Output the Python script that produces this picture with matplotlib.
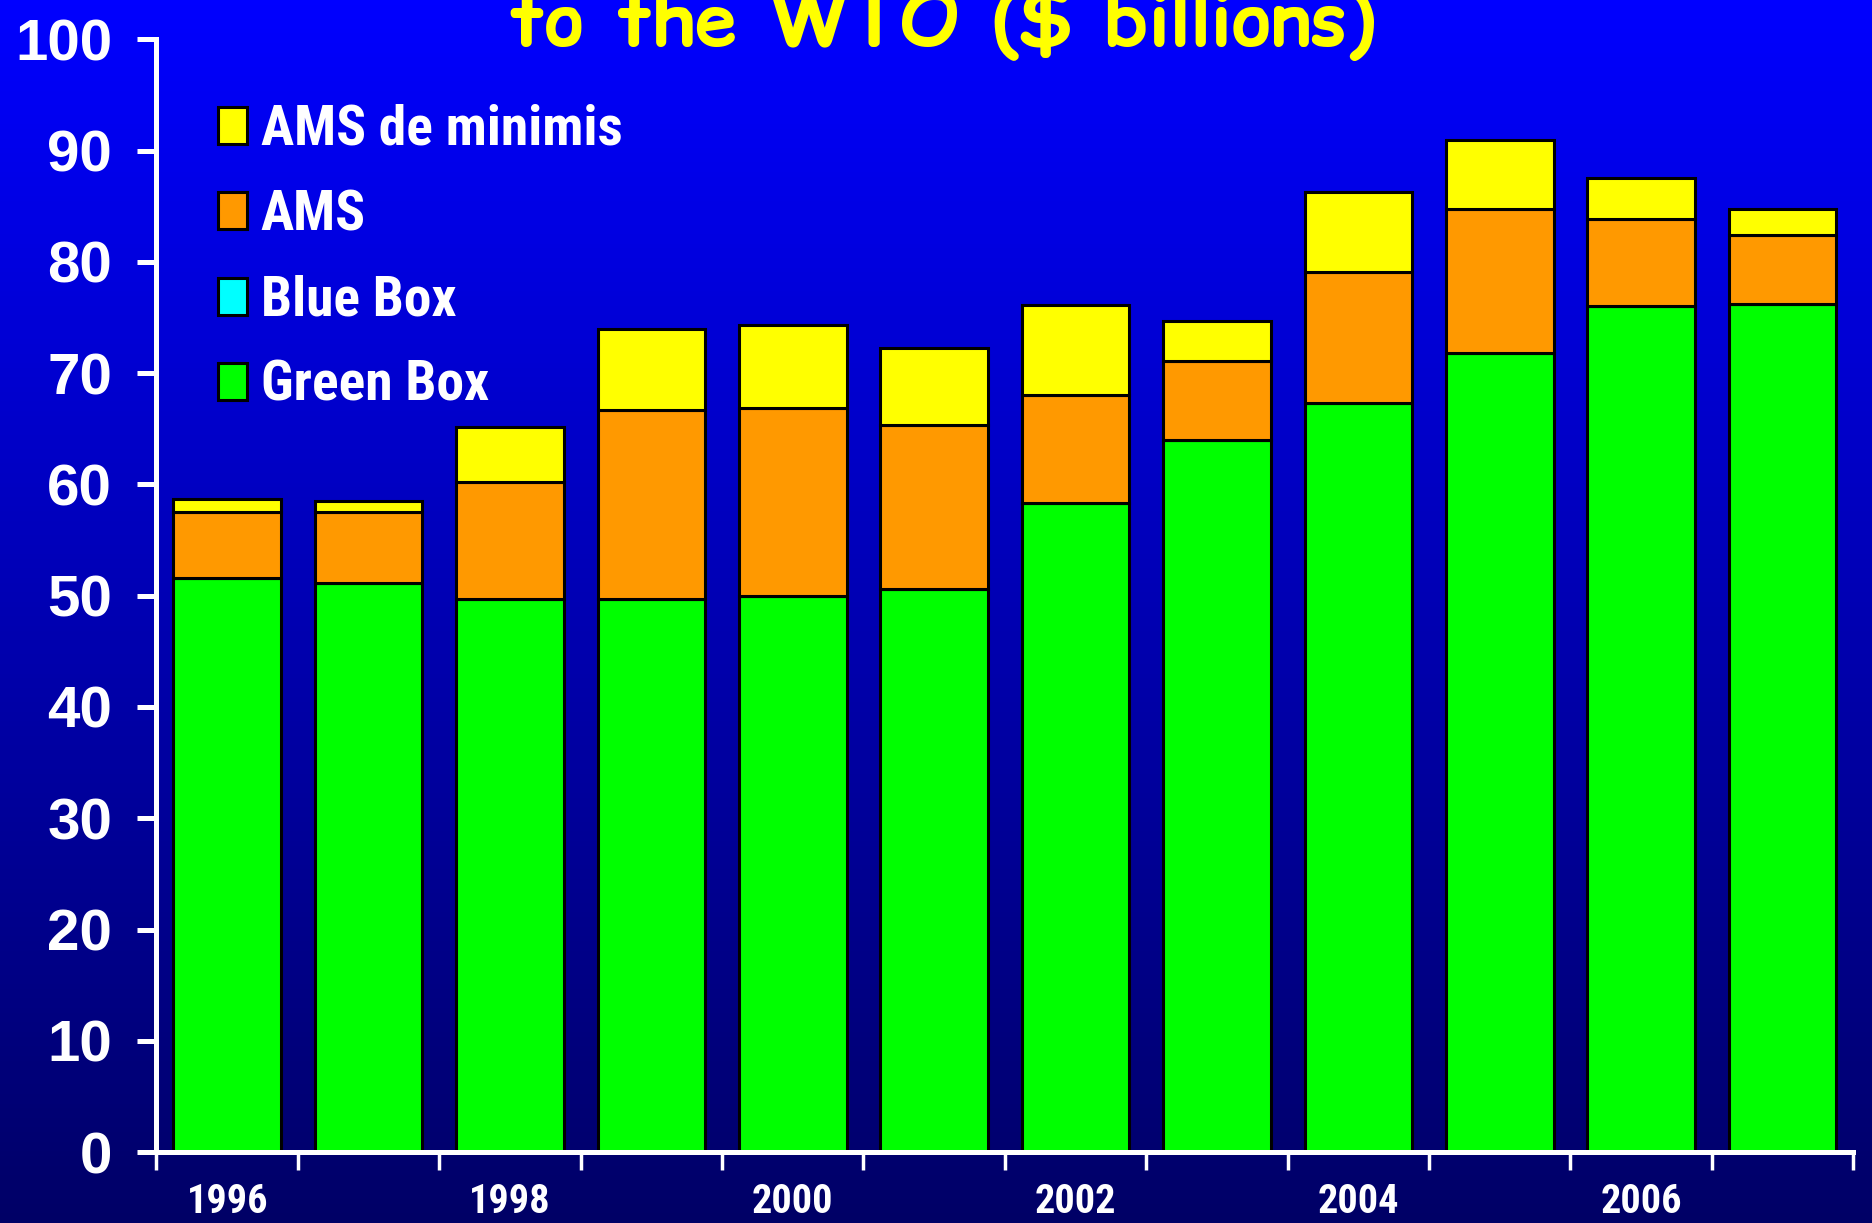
import numpy as np
import matplotlib
matplotlib.use("Agg")
import matplotlib.pyplot as plt
from matplotlib.ticker import FixedLocator

# ── Data ──────────────────────────────────────────────────────────────────────

YEARS          = [1996, 1997, 1998, 1999, 2000, 2001, 2002, 2003, 2004, 2005, 2006, 2007]
GREEN_BOX      = [51.6, 51.1, 49.7, 49.7, 50.0, 50.6, 58.3, 64.0, 67.3, 71.8, 76.0, 76.2]
BLUE_BOX       = [0.0, 0.0, 0.0, 0.0, 0.0, 0.0, 0.0, 0.0, 0.0, 0.0, 0.0, 0.0]
AMS            = [5.9, 6.4, 10.5, 17.0, 16.9, 14.7, 9.7, 7.1, 11.8, 13.0, 7.9, 6.2]
AMS_DE_MINIMIS = [1.2, 1.0, 5.0, 7.3, 7.4, 7.0, 8.1, 3.6, 7.2, 6.2, 3.6, 2.4]

SERIES = [
    ("Green Box", GREEN_BOX, "#00FF00"),
    ("Blue Box", BLUE_BOX, "#00FFFF"),
    ("AMS", AMS, "#FF9900"),
    ("AMS de minimis", AMS_DE_MINIMIS, "#FFFF00"),
]

NARROW = ["Roboto Condensed", "PT Sans Narrow", "Liberation Sans", "DejaVu Sans"]
ARIAL  = ["Liberation Sans", "DejaVu Sans"]
COMIC  = ["Comic Relief", "Comic Neue", "DejaVu Sans"]

# ── Figure ────────────────────────────────────────────────────────────────────

fig = plt.figure(figsize=(18.72, 12.23), dpi=100)

# blue gradient slide background
bg = fig.add_axes([0, 0, 1, 1], zorder=-10)
grad = np.linspace(1.0, 0.0, 256)
rgb = np.zeros((256, 1, 3))
rgb[:, 0, 2] = (102 + grad * 153) / 255.0
bg.imshow(rgb, aspect="auto", extent=[0, 1, 0, 1])
bg.axis("off")

ax = fig.add_axes([0.0836, 0.058, 0.9064, 0.9098])
ax.set_facecolor("none")

x = np.arange(len(YEARS))
bottom = np.zeros(len(YEARS))
handles = {}
for label, vals, color in SERIES:
    vals = np.array(vals)
    bars = ax.bar(x, vals, width=0.76, bottom=bottom, color=color,
                  edgecolor="black", linewidth=2.2, label=label)
    handles[label] = bars
    bottom += vals

ax.set_xlim(-0.5, len(YEARS) - 0.5)
ax.set_ylim(0, 100)

for side in ["top", "right"]:
    ax.spines[side].set_visible(False)
for side in ["left", "bottom"]:
    ax.spines[side].set_color("white")
    ax.spines[side].set_linewidth(3.6)

ax.set_yticks(np.arange(0, 101, 10))
ax.tick_params(axis="y", colors="white", length=14, width=3.6, pad=18,
               labelsize=42)
for t in ax.get_yticklabels():
    t.set_fontfamily(ARIAL)
    t.set_fontweight("bold")

ax.set_xticks(x[::2])
ax.set_xticklabels([str(y) for y in YEARS[::2]])
ax.xaxis.set_minor_locator(FixedLocator(np.arange(-0.5, len(YEARS), 1.0)))
ax.tick_params(axis="x", which="major", length=0, pad=22, colors="white",
               labelsize=29)
ax.tick_params(axis="x", which="minor", length=13, width=2.5, color="white")
for t in ax.get_xticklabels():
    t.set_fontfamily(NARROW)
    t.set_fontweight("bold")

order = ["AMS de minimis", "AMS", "Blue Box", "Green Box"]
leg = ax.legend([handles[k] for k in order], order, loc="upper left",
                bbox_to_anchor=(0.1165, 0.915), bbox_transform=fig.transFigure,
                frameon=False, handlelength=0.52, handleheight=0.65,
                handletextpad=0.25, labelspacing=0.6, borderpad=0,
                borderaxespad=0, prop={"family": NARROW, "weight": "bold",
                                       "size": 40})
for t in leg.get_texts():
    t.set_color("white")

fig.text(0.503, 0.963, "to the WTO ($ billions)", color="#FFFF00",
         fontsize=54, fontweight="bold", ha="center", va="baseline",
         family=COMIC)

fig.savefig("out.png", dpi=100)
